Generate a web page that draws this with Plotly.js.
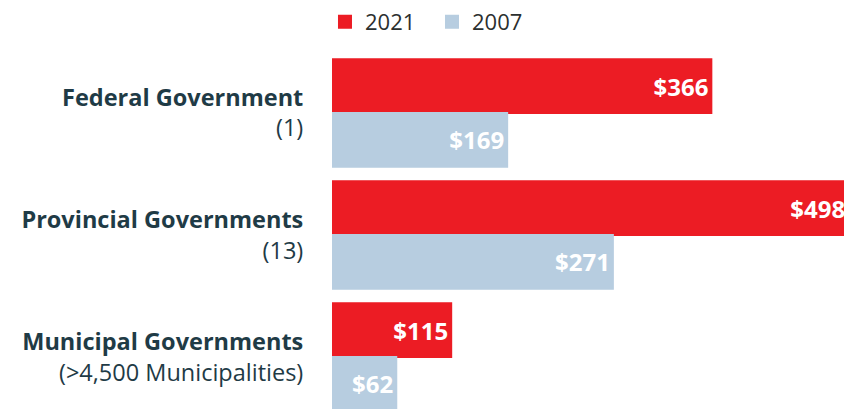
<!DOCTYPE html>
<html>
<head>
<meta charset="utf-8">
<script src="https://cdn.plot.ly/plotly-3.0.1.min.js"></script>
<style>html,body{margin:0;padding:0;background:#fff;}#chart{width:844px;height:409px;}</style>
</head>
<body>
<div id="chart"></div>
<script>
var categories = ['Federal Government', 'Provincial Governments', 'Municipal Governments'];
var subLabels = ['(1)', '(13)', '(>4,500 Municipalities)'];
var seriesNames = ['2021', '2007'];
var values2021 = [366, 498, 115];
var values2007 = [169, 271, 62];

var tickText = categories.map(function (c, i) { return '<b>' + c + '</b><br>' + subLabels[i]; });

var textFont = {family: 'Open Sans', size: 24, color: '#ffffff', weight: 'bold'};

var traces = [
  {
    type: 'bar', orientation: 'h', name: seriesNames[0],
    y: categories, x: values2021,
    marker: {color: '#ec1c24', line: {color: '#ec1c24', width: 2}},
    texttemplate: '$%{x}', textposition: 'inside', insidetextanchor: 'end',
    textfont: textFont, constraintext: 'none', hoverinfo: 'skip'
  },
  {
    type: 'bar', orientation: 'h', name: seriesNames[1],
    y: categories, x: values2007,
    marker: {color: '#b7cde0', line: {color: '#b7cde0', width: 2}},
    texttemplate: '$%{x}', textposition: 'inside', insidetextanchor: 'end',
    textfont: textFont, constraintext: 'none', hoverinfo: 'skip'
  }
];

var layout = {
  width: 844, height: 409,
  margin: {l: 332, r: 0, t: 52, b: 0, pad: 0},
  paper_bgcolor: '#ffffff', plot_bgcolor: '#ffffff',
  barmode: 'group', bargap: 0.12, bargroupgap: 0,
  showlegend: true,
  legend: {
    orientation: 'h', x: -0.0137, xanchor: 'left', y: 1.084, yanchor: 'middle',
    font: {family: 'Open Sans', size: 22, color: '#2b2f2f'},
    traceorder: 'normal', entrywidth: 62, entrywidthmode: 'pixels'
  },
  xaxis: {range: [0, 494], visible: false, showgrid: false, zeroline: false, fixedrange: true},
  yaxis: {
    type: 'category', categoryorder: 'array', categoryarray: categories,
    range: [2.426, -0.5],
    tickmode: 'array', tickvals: categories, ticktext: tickText,
    ticks: 'outside', ticklen: 23, tickcolor: 'rgba(0,0,0,0)',
    tickfont: {family: 'Open Sans', size: 23.5, color: '#1f3b46'},
    showgrid: false, zeroline: false, showline: false, fixedrange: true
  }
};

Plotly.newPlot('chart', traces, layout, {staticPlot: true, displayModeBar: false});
</script>
</body>
</html>
